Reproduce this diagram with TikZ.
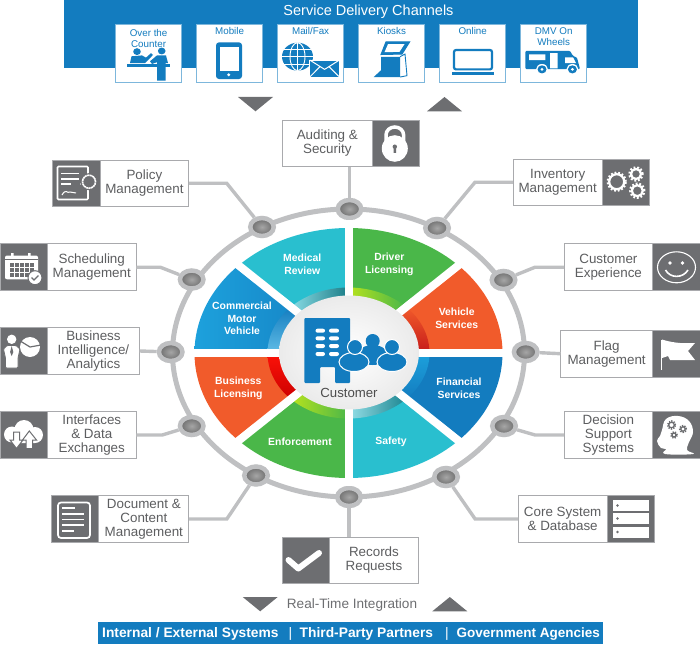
\documentclass[tikz,border=0pt]{standalone}
\usepackage{fontspec}
\setmainfont{Liberation Sans}
\usepackage{color, xcolor}
\usetikzlibrary{positioning,shapes,calc}
\definecolor{chanblue}{HTML}{137CBF}
\definecolor{slate}{HTML}{6D6E71}
\definecolor{ringgray}{HTML}{BFC0C2}
\definecolor{edgegray}{HTML}{A9AAAD}
\definecolor{teal}{HTML}{29BFCF}
\definecolor{leaf}{HTML}{4AB749}
\definecolor{flame}{HTML}{F15B2B}
\definecolor{sky}{HTML}{1DA1DC}
\tikzset{
  tagbox/.style = {draw=edgegray, fill=white, line width=.9pt, rectangle, inner sep=0pt,
                   outer sep=0pt, minimum height=46.6pt, align=center, text=slate!85!black,
                   font=\fontsize{13.4}{14}\selectfont,
                   execute at begin node={\rule{0pt}{12.4pt}}},
  iconbox/.style = {draw=edgegray, fill=slate, line width=.9pt, rectangle, inner sep=0pt,
                   outer sep=0pt, minimum height=46.6pt, minimum width=47.3pt},
  chanbox/.style = {draw=chanblue!55, fill=white, line width=.8pt, rectangle, inner sep=0pt,
                   minimum width=66.2pt, minimum height=58pt},
  chanlabel/.style = {inner sep=0pt, align=center, text=chanblue,
                   font=\fontsize{9.8}{11}\selectfont},
  wedge/.style = {inner sep=0pt, align=center, text=white,
                   font=\bfseries\fontsize{10.4}{12.7}\selectfont},
  hub/.style = {ellipse, draw=ringgray, line width=4.5pt, inner sep=0pt,
                   minimum width=23.5pt, minimum height=18pt,
                   inner color=black!35, outer color=black!58},
  link/.style = {draw=ringgray, line width=3.4pt},
  marker/.style = {fill=slate, draw=none},
  gap/.style = {draw=white, line width=8pt},
  barlabel/.style = {inner sep=0pt, anchor=base west, text=white,
                   font=\bfseries\fontsize{13.8}{15}\selectfont}
}
\newcommand{\sector}[4]{
  \fill[#1] (core) -- +(#3:154pt and 125pt) arc[start angle=#3, end angle=#4, x radius=154pt, y radius=125pt] -- cycle;
  \shade[#2] (core) -- +(#3:81pt and 65.5pt) arc[start angle=#3, end angle=#4, x radius=81pt, y radius=65.5pt] -- cycle;
}
\newcommand{\gearicon}[3]{
  \draw[white, line width=2.4pt, dash pattern=on 1.8pt off 1.8pt] (#1,#2) circle (#3pt);
  \draw[white, line width=2.2pt] (#1,#2) circle ({(#3-1.5)*1pt});
}
\begin{document}
\begin{tikzpicture}[x=1pt,y=-1pt]
  \useasboundingbox (0,0) rectangle (700,644);
  \coordinate (core) at (348.5,353);

  % channels
  \fill[chanblue] (64,0) rectangle (638,67.7);
  \node[inner sep=0pt, text=white, font=\fontsize{14.5}{16}\selectfont] (title) at (368.5,11.5) {Service Delivery Channels};
  \node[chanbox] (counter) at (148.6,53.3) {};
  \node[chanbox] (mobile) at (229.6,53.3) {};
  \node[chanbox] (mail) at (310.6,53.3) {};
  \node[chanbox] (kiosks) at (391.5,53.3) {};
  \node[chanbox] (online) at (472.7,53.3) {};
  \node[chanbox] (wheels) at (553.7,53.3) {};
  \node[chanlabel, below=5.5pt of counter.north] (counterlabel) {Over the\\Counter};
  \node[chanlabel, below=3.4pt of mobile.north] (mobilelabel) {Mobile};
  \node[chanlabel, below=3.4pt of mail.north] (maillabel) {Mail/Fax};
  \node[chanlabel, below=3.4pt of kiosks.north] (kioskslabel) {Kiosks};
  \node[chanlabel, below=3.4pt of online.north] (onlinelabel) {Online};
  \node[chanlabel, below=3.6pt of wheels.north] (wheelslabel) {DMV On\\Wheels};

  \begin{scope}[yscale=.901]
  % over the counter
  \fill[chanblue] (137,57.3) circle (3.8pt) (161.7,56.6) circle (3.8pt);
  \fill[chanblue] (130,70) -- (131.5,62.5) -- (142,61.5) -- (146,64) -- (151,59) -- (153,61) -- (146,69) -- (145,70) -- cycle;
  \fill[chanblue] (150,68) -- (157,61.5) -- (166,61.5) -- (168,70) -- (165.5,70) -- (165.5,89.5) -- (157,89.5) -- (157,69) -- (152,71) -- cycle;
  \fill[chanblue] (127.3,70.5) rectangle (170,74);
  % mobile
  \fill[chanblue, rounded corners=3pt] (216,47) rectangle (242,87.7);
  \fill[white] (219.5,52.5) rectangle (238.5,79);
  \fill[white] (228.7,83) circle (1.7pt);
  % mail
  \fill[chanblue] (297.5,62.9) circle (15.5pt);
  \draw[white, line width=.9pt] (282,62.9) -- (313,62.9) (284,55) -- (311,55) (284,71) -- (311,71) (297.5,47.4) -- (297.5,78.4);
  \draw[white, line width=.9pt] (297.5,62.9) ellipse [x radius=7.5pt, y radius=15.5pt];
  \draw[white, fill=chanblue, line width=1pt] (309.7,66.6) rectangle (339.5,85.5);
  \draw[white, line width=1pt] (309.7,66.6) -- (324.6,77) -- (339.5,66.6) (309.7,85.5) -- (320,74) (339.5,85.5) -- (329,74);
  % kiosk
  \draw[chanblue, line width=1pt, fill=chanblue] (386,46.5) -- (409.6,46.5) -- (402,60) -- (381,60.5) -- cycle;
  \fill[white] (388,49) -- (404.5,49) -- (399.5,57.5) -- (384.5,58) -- cycle;
  \fill[chanblue] (381,63) -- (400,63) -- (400,85.5) -- (373.7,85.5) -- (381,78) -- cycle;
  \draw[chanblue, line width=.9pt] (400,63) -- (405,60) -- (407,84) -- (400,85.5);
  % laptop
  \draw[chanblue, line width=2.2pt, rounded corners=2pt] (454,55.5) rectangle (492,77);
  \fill[chanblue] (452.2,79.5) rectangle (493.6,83);
  % camper
  \fill[chanblue, rounded corners=1pt] (525.4,56.5) -- (570,56.5) -- (573,62) -- (577,64) -- (580,76.6) -- (525.4,76.6) -- cycle;
  \fill[white] (529,60.3) rectangle (545.4,66.6) (550,59) rectangle (557.6,75.8);
  \fill[white] (565,63.6) -- (573,63.6) -- (576,70) -- (565,70) -- cycle;
  \fill[white] (542,77) circle (6pt) (572.4,77) circle (6pt);
  \fill[chanblue] (542,77) circle (4.5pt) (572.4,77) circle (4.5pt);
  \fill[white] (542,77) circle (1.6pt) (572.4,77) circle (1.6pt);
  \end{scope}

  % markers
  \fill[marker] (238,97) -- (273,97) -- (255.5,111.3) -- cycle;
  \fill[marker] (427,111.3) -- (462,111.3) -- (444.5,97) -- cycle;
  \fill[marker] (242.7,597) -- (277.7,597) -- (260.2,611.3) -- cycle;
  \fill[marker] (432.3,611.3) -- (467.3,611.3) -- (449.8,597) -- cycle;

  % ring and hubs
  \draw[ringgray, line width=5pt] (348.5,353) ellipse [x radius=176pt, y radius=144pt];
  \node[hub] (hubaudit) at (349.5,209) {};
  \node[hub] (hubpolicy) at (262,227) {};
  \node[hub] (hubstock) at (437,228) {};
  \node[hub] (hubsched) at (191.7,279.5) {};
  \node[hub] (hubcustom) at (503.5,280) {};
  \node[hub] (hubintel) at (170.7,352) {};
  \node[hub] (hubflag) at (525.7,352) {};
  \node[hub] (hubface) at (191.7,426) {};
  \node[hub] (hubdecide) at (504,426) {};
  \node[hub] (hubdocs) at (256,475.5) {};
  \node[hub] (hubcore) at (446,477) {};
  \node[hub] (hubrecords) at (349,497) {};

  % sectors
  \sector{teal}{left color=teal!55!white, right color=black!35!teal}{90}{135}
  \sector{leaf}{left color=yellow!60!leaf, right color=leaf}{45}{90}
  \sector{flame}{bottom color=red!75!black!90, top color=flame}{0}{45}
  \sector{chanblue}{top color=sky, bottom color=chanblue}{-45}{0}
  \sector{teal}{left color=teal!50!white, right color=black!30!teal}{-90}{-45}
  \sector{leaf}{left color=yellow!60!leaf, right color=leaf}{-135}{-90}
  \sector{flame}{top color=red!80!flame, bottom color=red!80!black}{-180}{-135}
  \shade[left color=sky, right color=chanblue] (core) -- +(135:154pt and 125pt) arc[start angle=135, end angle=180, x radius=154pt, y radius=125pt] -- cycle;
  \shade[bottom color=sky!70!white, top color=chanblue] (core) -- +(135:81pt and 65.5pt) arc[start angle=135, end angle=180, x radius=81pt, y radius=65.5pt] -- cycle;
  \draw[gap] (348.5,220) -- (348.5,486) (188,353) -- (510,353);
  \draw[gap] (230,258.5) -- (467,447.5) (230,447.5) -- (467,258.5);
  \shade[inner color=white, outer color=black!8] (349,352.5) ellipse [x radius=70pt, y radius=57pt];

  % centre
  \fill[chanblue, rounded corners=1pt] (304.3,318) -- (350,318) -- (350,383) -- (335,383) -- (335,367) -- (320,367) -- (320,383) -- (304.3,383) -- cycle;
  \foreach \rowy in {330.7,338.3,346,354} {
    \fill[white, rounded corners=2pt] (315.5,\rowy-2) rectangle (325,\rowy+2);
    \fill[white, rounded corners=2pt] (329,\rowy-2) rectangle (339,\rowy+2);
  }
  \fill[chanblue] (372.7,355) ellipse [x radius=15pt, y radius=10pt];
  \fill[chanblue] (372.7,341) circle (7pt);
  \draw[white, fill=chanblue, line width=1pt] (354,362) ellipse [x radius=15pt, y radius=9.5pt];
  \draw[white, fill=chanblue, line width=1pt] (392,362) ellipse [x radius=15pt, y radius=9.5pt];
  \draw[white, fill=chanblue, line width=1pt] (355,347) circle (7.5pt) (392,347) circle (7.5pt);
  \node[inner sep=0pt, text=black!70, font=\fontsize{13.2}{14}\selectfont] (customer) at (349,393.3) {Customer};

  % wedge labels
  \node[wedge] (medical) at (302.3,264) {Medical\\Review};
  \node[wedge] (driver) at (389.3,264) {Driver\\Licensing};
  \node[wedge] (motor) at (242,318.3) {Commercial\\Motor\\Vehicle};
  \node[wedge] (vehicle) at (456.7,318.3) {Vehicle\\Services};
  \node[wedge] (business) at (238.3,388.3) {Business\\Licensing};
  \node[wedge] (financial) at (459,388.3) {Financial\\Services};
  \node[wedge] (enforce) at (300,441.7) {Enforcement};
  \node[wedge] (safety) at (391,441.7) {Safety};

  % boxes
  \node[iconbox] (policyicon) at (76.4,183.3) {};
  \node[tagbox, minimum width=88.7pt, right=0pt of policyicon] (policy) {Policy\\Management};
  \node[iconbox] (schedicon) at (23.6,267.2) {};
  \node[tagbox, minimum width=89pt, right=0pt of schedicon] (sched) {Scheduling\\Management};
  \node[iconbox] (intelicon) at (23.6,351) {};
  \node[tagbox, minimum width=92.4pt, right=0pt of intelicon] (intel) {Business\\Intelligence/\\Analytics};
  \node[iconbox] (faceicon) at (23.6,435) {};
  \node[tagbox, minimum width=89pt, right=0pt of faceicon] (face) {Interfaces\\\& Data\\Exchanges};
  \node[iconbox] (docsicon) at (75.2,519) {};
  \node[tagbox, minimum width=90pt, right=0pt of docsicon] (docs) {Document \&\\Content\\Management};
  \node[iconbox] (stockicon) at (626,182.3) {};
  \node[tagbox, minimum width=89.4pt, left=0pt of stockicon] (stock) {Inventory\\Management};
  \node[iconbox] (customicon) at (676.4,267.2) {};
  \node[tagbox, minimum width=88.7pt, left=0pt of customicon] (custom) {Customer\\Experience};
  \node[iconbox] (flagicon) at (676.4,353.7) {};
  \node[tagbox, minimum width=92.3pt, left=0pt of flagicon] (flag) {Flag\\Management};
  \node[iconbox] (decideicon) at (676.4,435) {};
  \node[tagbox, minimum width=88.7pt, left=0pt of decideicon] (decide) {Decision\\Support\\Systems};
  \node[iconbox] (coreicon) at (630.8,519) {};
  \node[tagbox, minimum width=89pt, left=0pt of coreicon] (coresys) {Core System\\\& Database};
  \node[iconbox] (auditicon) at (395.6,143.3) {};
  \node[tagbox, minimum width=89.3pt, left=0pt of auditicon] (audit) {Auditing \&\\Security};
  \node[iconbox] (recordsicon) at (306,560.3) {};
  \node[tagbox, minimum width=88.6pt, right=0pt of recordsicon] (records) {Records\\Requests};

  % links
  \draw[link] (hubaudit) -- (hubaudit |- audit.south);
  \draw[link] (policy.east) -- ++(38,0) -- (hubpolicy);
  \draw[link] (sched.east) -- ++(24,0) -- (hubsched);
  \draw[link] (intel.east) -- (hubintel);
  \draw[link] (face.east) -- ++(26,0) -- (hubface);
  \draw[link] (docs.east) -- ++(38,0) -- (hubdocs);
  \draw[link] (stock.west) -- ++(-38,0) -- (hubstock);
  \draw[link] (custom.west) -- ++(-29,0) -- (hubcustom);
  \draw[link] (flag.west) -- (hubflag);
  \draw[link] (decide.west) -- ++(-29,0) -- (hubdecide);
  \draw[link] (coresys.west) -- ++(-43,0) -- (hubcore);
  \draw[link] (hubrecords) -- (hubrecords |- records.north);

  % lock
  \draw[white, line width=3.5pt] (386,142) -- (386,135) arc[start angle=180, end angle=0, x radius=8.8pt, y radius=8pt] -- (403.6,142);
  \fill[white] (394.8,148.5) ellipse [x radius=13pt, y radius=13.3pt];
  \fill[slate] (394.8,146.7) circle (2.2pt) (393.5,146.7) rectangle (396.1,153);
  % policy
  \draw[white, line width=1.6pt, rounded corners=1pt] (57.5,166.5) rectangle (88,199.5);
  \draw[white, line width=1.6pt] (61,173.5) -- (79,173.5) (61,179) -- (79,179) (61,184) -- (71,184);
  \draw[white, line width=1pt] (62,195) .. controls (66,188) and (67,194) .. (70,192) -- (76,193);
  \fill[white] (81,184) circle (1pt);
  \draw[slate, fill=slate, line width=1pt] (89,181.7) circle (8pt);
  \draw[white, line width=1.6pt, dash pattern=on 2pt off .5pt] (89,181.7) circle (6.5pt);
  % calendar
  \fill[white, rounded corners=2pt] (5,255.5) rectangle (38,279.3);
  \fill[white] (11,253) rectangle (13.5,257) (28,253) rectangle (30.5,257);
  \fill[slate] (5,258.5) rectangle (38,260);
  \foreach \cellx in {10,15,20,25,30} { \foreach \celly in {263,268,273} {
    \fill[slate] (\cellx,\celly) rectangle ++(3.8,3.8);
  } }
  \draw[slate, fill=white, line width=1pt] (35,277.7) circle (7pt);
  \draw[slate, line width=1.2pt] (31.5,277.5) -- (34,280) -- (38.5,275.5);
  % analytics
  \fill[white] (30,347) circle (10pt);
  \draw[slate, line width=1.2pt] (21,341.5) -- (30,347) -- (41,345);
  \draw[slate, fill=white, line width=.8pt, rounded corners=1pt] (3.5,349) -- (7,345.5) -- (16,345.5) -- (20,349) -- (18,358) -- (18,368) -- (5.5,368) -- (5.5,358) -- cycle;
  \fill[white] (11.7,339.3) circle (4.7pt);
  \fill[slate] (11.7,346) -- (13.3,352) -- (11.7,356) -- (10.1,352) -- cycle;
  % cloud
  \fill[white] (12,434.5) circle (8pt) (24,429.5) circle (9.5pt) (35,435) circle (8pt) (12,434) rectangle (35,443);
  \draw[slate, fill=white, line width=1pt] (13.5,432) -- (19.5,432) -- (19.5,440) -- (23,440) -- (16.5,448.5) -- (10,440) -- (13.5,440) -- cycle;
  \draw[slate, fill=white, line width=1pt] (26,448.5) -- (32.5,448.5) -- (32.5,440) -- (36.5,440) -- (29.3,431) -- (22.5,440) -- (26,440) -- cycle;
  % document
  \draw[white, line width=1.7pt, rounded corners=3pt] (58,502.5) rectangle (90,538);
  \draw[white, line width=1.3pt] (62,508) -- (75,508) (62,514) -- (84,514) (62,519.5) -- (84,519.5) (62,525) -- (84,525) (62,531) -- (74,531);
  % gears
  \gearicon{616.7}{181.7}{9}
  \gearicon{636}{174}{6.5}
  \gearicon{637.3}{190.7}{7}
  % smile
  \draw[white, line width=1.1pt] (676.5,267.3) ellipse [x radius=19pt, y radius=15.5pt];
  \fill[white] (670,263) circle (1.8pt) (682.5,263) circle (1.8pt);
  \draw[white, line width=1.6pt] (665.5,270) .. controls (670,278.5) and (683,278.5) .. (688,270);
  % flag
  \fill[white] (660.5,339.5) rectangle (662,369.5);
  \fill[white] (662,339.5) .. controls (670,342) and (680,344) .. (695,343) -- (688,351) -- (695,360) -- (670,360) -- (668,356) -- (662,358) -- cycle;
  % brain
  \fill[white] plot[smooth cycle, tension=.7] coordinates {(662,430) (666,419) (678,416) (689,421) (693,432) (689,442) (687,450) (693,454) (665,454) (666,449) (661,448) (657,441) (660,436)};
  \foreach \gearx/\geary/\gearr in {671.5/425/3.8,683/429/3.2,674/435/3} {
    \draw[slate, line width=1.8pt, dash pattern=on 1.2pt off 1.2pt] (\gearx,\geary) circle (\gearr pt);
    \draw[slate, line width=1.3pt] (\gearx,\geary) circle ({(\gearr-1)*1pt});
  }
  % server
  \foreach \racky in {500,513,526.5} {
    \fill[white] (613.3,\racky) rectangle (649,\racky+11);
    \fill[slate] (617.5,\racky+5.5) circle (1.3pt);
  }
  % check
  \draw[white, line width=6pt, line cap=round, line join=round] (288.5,560) -- (298.3,568.5) -- (319,553);

  % bottom
  \node[inner sep=0pt, text=slate, font=\fontsize{13.6}{15}\selectfont] (integration) at (352,605) {Real-Time Integration};
  \fill[chanblue] (98.3,621.7) rectangle (603,644);
  \node[barlabel] (systems) at (102,637.3) {Internal / External Systems};
  \node[barlabel, font=\fontsize{13.8}{15}\selectfont] (barone) at (288.5,637.3) {|};
  \node[barlabel] (partners) at (299.5,637.3) {Third-Party Partners};
  \node[barlabel, font=\fontsize{13.8}{15}\selectfont] (bartwo) at (444.8,637.3) {|};
  \node[barlabel, font=\bfseries\fontsize{13.5}{15}\selectfont] (agencies) at (456.5,637.3) {Government Agencies};
\end{tikzpicture}
\end{document}
